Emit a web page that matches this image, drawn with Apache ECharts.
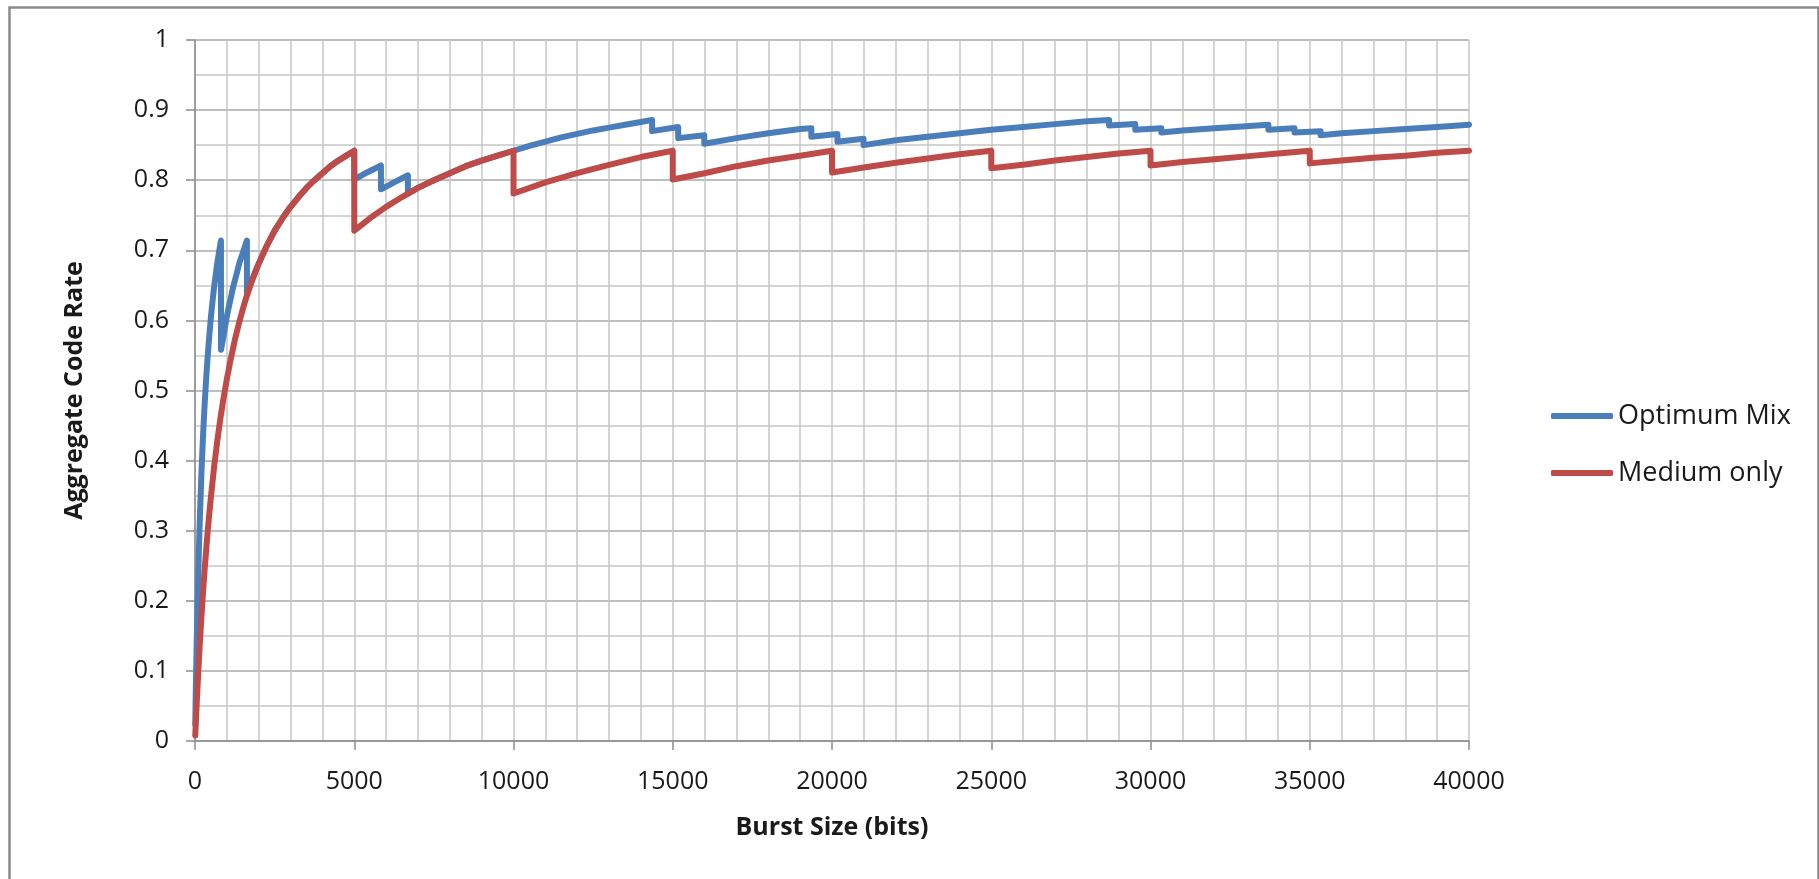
<!DOCTYPE html>
<html>
<head>
<meta charset="utf-8">
<script src="https://cdn.jsdelivr.net/npm/echarts@6/dist/echarts.min.js"></script>
<style>
html,body{margin:0;padding:0;background:#fff;}
#chart{width:1819px;height:879px;}
</style>
</head>
<body>
<div id="chart"></div>
<script>
// ---- data ----
const seriesNames = ['Optimum Mix', 'Medium only'];
const xAxisTitle = 'Burst Size (bits)';
const yAxisTitle = 'Aggregate Code Rate';

const optimumX = [8, 25, 50, 75, 100, 125, 150, 200, 250, 300, 350, 400, 450, 500, 550, 600, 650, 700, 750, 815,
  816, 900, 1000, 1100, 1200, 1300, 1400, 1500, 1630,
  1631, 1750, 1875, 2000, 2250, 2500, 2750, 3000, 3250, 3500, 3750, 4000, 4250, 4500, 4750, 5000,
  5001, 5400, 5838, 5839, 6250, 6685,
  6686, 7000, 7500, 8000, 8500, 9000, 9500, 10000,
  10500, 11000, 11500, 12000, 12500, 13000, 13500, 14000, 14350,
  14351, 15170, 15171, 15990,
  15991, 17000, 18000, 19000, 19350,
  19351, 20170, 20171, 20990,
  20991, 22000, 23000, 24000, 25000, 26000, 27000, 28000, 28700,
  28701, 29520, 29521, 30340,
  30341, 31000, 32000, 33000, 33700,
  33701, 34520, 34521, 35340,
  35341, 36000, 37000, 38000, 39000, 40000];
const optimumY = [0.024, 0.072, 0.133, 0.187, 0.234, 0.277, 0.315, 0.380, 0.433, 0.478, 0.517, 0.550, 0.579, 0.605, 0.627, 0.648, 0.665, 0.682, 0.696, 0.714,
  0.558, 0.579, 0.606, 0.627, 0.648, 0.665, 0.683, 0.696, 0.714,
  0.636, 0.652, 0.667, 0.681, 0.706, 0.728, 0.746, 0.762, 0.776, 0.789, 0.800, 0.810, 0.820, 0.828, 0.835, 0.842,
  0.801, 0.811, 0.821, 0.787, 0.797, 0.807,
  0.781, 0.789, 0.800, 0.810, 0.820, 0.828, 0.835, 0.842,
  0.849, 0.855, 0.861, 0.866, 0.871, 0.875, 0.879, 0.883, 0.886,
  0.870, 0.876, 0.860, 0.864,
  0.852, 0.860, 0.867, 0.873, 0.874,
  0.862, 0.866, 0.855, 0.859,
  0.850, 0.857, 0.862, 0.867, 0.872, 0.876, 0.880, 0.884, 0.886,
  0.878, 0.880, 0.872, 0.874,
  0.868, 0.871, 0.874, 0.877, 0.879,
  0.872, 0.874, 0.868, 0.870,
  0.864, 0.867, 0.870, 0.873, 0.876, 0.879];

const mediumX = [8, 50, 100, 150, 200, 250, 300, 350, 400, 450, 500, 600, 700, 800, 900, 1000, 1100, 1250, 1375, 1500, 1625, 1750, 1875, 2000,
  2250, 2500, 2750, 3000, 3250, 3500, 3750, 4000, 4250, 4500, 4750, 5000,
  5001, 5500, 6000, 6500, 7000, 7500, 8000, 8500, 9000, 9500, 10000,
  10001, 11000, 12000, 13000, 14000, 15000,
  15001, 16000, 17000, 18000, 19000, 20000,
  20001, 21000, 22000, 23000, 24000, 25000,
  25001, 26000, 27000, 28000, 29000, 30000,
  30001, 31000, 32000, 33000, 34000, 35000,
  35001, 36000, 37000, 38000, 39000, 40000];
const mediumY = [0.008, 0.050, 0.096, 0.138, 0.176, 0.211, 0.243, 0.272, 0.300, 0.325, 0.348, 0.391, 0.428, 0.461, 0.490, 0.516, 0.540, 0.572, 0.595, 0.616, 0.635, 0.652, 0.667, 0.681,
  0.706, 0.728, 0.746, 0.762, 0.776, 0.789, 0.800, 0.810, 0.820, 0.828, 0.835, 0.842,
  0.728, 0.746, 0.762, 0.776, 0.789, 0.800, 0.810, 0.820, 0.828, 0.835, 0.842,
  0.781, 0.797, 0.810, 0.822, 0.833, 0.842,
  0.801, 0.810, 0.820, 0.828, 0.835, 0.842,
  0.811, 0.818, 0.825, 0.831, 0.837, 0.842,
  0.817, 0.822, 0.828, 0.833, 0.838, 0.842,
  0.821, 0.826, 0.830, 0.834, 0.838, 0.842,
  0.824, 0.828, 0.832, 0.835, 0.839, 0.842];

const xMin = 0, xMax = 40000, xStep = 5000;
const yMin = 0, yMax = 1, yStep = 0.1;

// ---- chart ----
const pairs = (xs, ys) => xs.map((x, i) => [x, ys[i]]);
const FONT = '"Open Sans", "Liberation Sans", sans-serif';
const chart = echarts.init(document.getElementById('chart'), null, {renderer: 'canvas'});

const lineStyleFor = c => ({color: c, width: 6, cap: 'round', join: 'round'});

chart.setOption({
  animation: false,
  backgroundColor: '#ffffff',
  graphic: [{
    type: 'rect', left: 7, top: 5, z: -10,
    shape: {width: 1809, height: 900},
    style: {fill: 'none', stroke: '#8a8a8a', lineWidth: 2.5}
  }],
  grid: {left: 195, right: 350, top: 40, bottom: 138, containLabel: false},
  legend: {
    orient: 'vertical',
    left: 1551, top: 400, padding: 0,
    icon: 'roundRect',
    itemWidth: 62, itemHeight: 6,
    itemGap: 25,
    textStyle: {fontFamily: FONT, fontSize: 27, color: '#1a1a1a', lineHeight: 32},
    data: seriesNames
  },
  xAxis: {
    type: 'value', min: xMin, max: xMax, interval: xStep,
    name: xAxisTitle, nameLocation: 'middle', nameGap: 74,
    nameTextStyle: {fontFamily: FONT, fontSize: 25, fontWeight: 'bold', color: '#1a1a1a'},
    axisLine: {show: true, lineStyle: {color: '#8c8c8c', width: 1.5}},
    axisTick: {show: true, length: 9, lineStyle: {color: '#8c8c8c', width: 1.5}},
    axisLabel: {fontFamily: FONT, fontSize: 25, color: '#1a1a1a', margin: 28,
      formatter: v => String(v)},
    splitLine: {show: true, lineStyle: {color: '#c6c6c6', width: 1.5}},
    minorTick: {show: false, splitNumber: 5},
    minorSplitLine: {show: true, lineStyle: {color: '#c6c6c6', width: 1.5}}
  },
  yAxis: {
    type: 'value', min: yMin, max: yMax, interval: yStep,
    name: yAxisTitle, nameLocation: 'middle', nameGap: 108, nameRotate: 90,
    nameTextStyle: {fontFamily: FONT, fontSize: 25, fontWeight: 'bold', color: '#1a1a1a'},
    axisLine: {show: true, lineStyle: {color: '#8c8c8c', width: 1.5}},
    axisTick: {show: true, length: 9, lineStyle: {color: '#8c8c8c', width: 1.5}},
    axisLabel: {fontFamily: FONT, fontSize: 25, color: '#1a1a1a', margin: 26,
      formatter: v => String(Math.round(v * 10) / 10)},
    splitLine: {show: true, lineStyle: {color: '#a8a8a8', width: 1.5}},
    minorTick: {show: false, splitNumber: 2},
    minorSplitLine: {show: true, lineStyle: {color: '#c6c6c6', width: 1.5}}
  },
  series: [{
    name: seriesNames[0], type: 'line', showSymbol: false, symbol: 'none',
    data: pairs(optimumX, optimumY),
    itemStyle: {color: '#4A7EBB'},
    lineStyle: lineStyleFor('#4A7EBB'),
    z: 2
  }, {
    name: seriesNames[1], type: 'line', showSymbol: false, symbol: 'none',
    data: pairs(mediumX, mediumY),
    itemStyle: {color: '#BE4B48'},
    lineStyle: lineStyleFor('#BE4B48'),
    z: 3
  }]
});
</script>
</body>
</html>
